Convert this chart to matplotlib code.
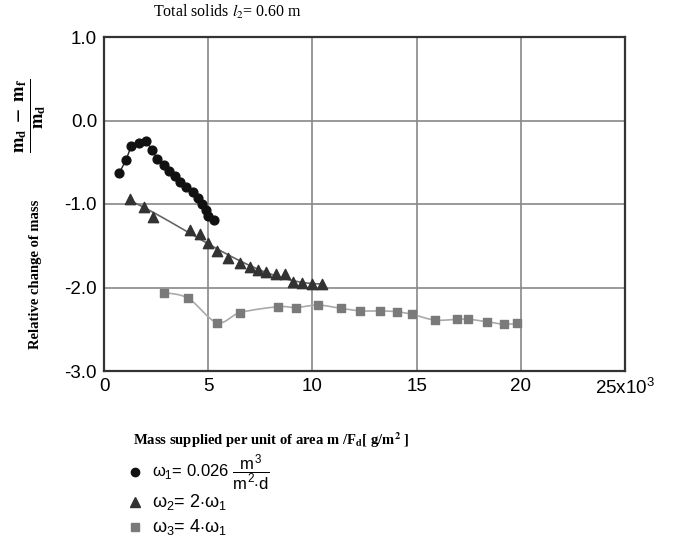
import matplotlib.pyplot as plt
import numpy as np
from matplotlib.lines import Line2D

plt.rcParams['mathtext.fontset'] = 'custom'
plt.rcParams['mathtext.rm'] = 'Liberation Sans'
plt.rcParams['mathtext.it'] = 'Liberation Sans'
plt.rcParams['mathtext.bf'] = 'Liberation Sans:bold'

# omega_1 (circles)
x1 = [0.74, 1.06, 1.30, 1.67, 2.02, 2.29, 2.56, 2.88, 3.12, 3.39, 3.65, 3.94,
      4.25, 4.49, 4.71, 4.90, 5.01, 5.29]
y1 = [-0.625, -0.47, -0.31, -0.27, -0.245, -0.35, -0.46, -0.53, -0.60, -0.66,
      -0.74, -0.80, -0.86, -0.93, -1.00, -1.07, -1.14, -1.19]

# omega_2 (triangles)
x2 = [1.25, 1.92, 2.37, 4.13, 4.62, 5.01, 5.44, 5.93, 6.51, 6.99, 7.38, 7.79,
      8.27, 8.70, 9.05, 9.52, 10.0, 10.47]
y2 = [-0.94, -1.04, -1.16, -1.31, -1.36, -1.47, -1.56, -1.65, -1.71, -1.75,
      -1.79, -1.82, -1.84, -1.84, -1.93, -1.95, -1.96, -1.96]

# omega_3 (squares)
x3 = [2.88, 4.05, 5.42, 6.54, 8.35, 9.21, 10.27, 11.37, 12.28, 13.24, 14.04,
      14.76, 15.88, 16.95, 17.48, 18.39, 19.17, 19.84]
y3 = [-2.06, -2.13, -2.42, -2.30, -2.23, -2.24, -2.21, -2.25, -2.28, -2.28,
      -2.29, -2.32, -2.39, -2.38, -2.38, -2.41, -2.44, -2.43]

xticks = [0, 5, 10, 15, 20, 25]
xticklabels = ["0", "5", "10", "15", "20", r"25x10$^3$"]
yticks = [1.0, 0.0, -1.0, -2.0, -3.0]


def smooth(x, y, n=20):
    # catmull-rom through the measured points, just for the drawn curve
    p = np.column_stack([x, y])
    p = np.vstack([p[0], p, p[-1]])
    t = np.linspace(0, 1, n, endpoint=False)[:, None]
    out = []
    for i in range(1, len(p) - 2):
        p0, p1, p2, p3 = p[i-1], p[i], p[i+1], p[i+2]
        out.append(0.5 * (2*p1 + (-p0 + p2)*t + (2*p0 - 5*p1 + 4*p2 - p3)*t**2
                          + (-p0 + 3*p1 - 3*p2 + p3)*t**3))
    out.append(p[-2][None, :])
    out = np.vstack(out)
    return out[:, 0], out[:, 1]


fig = plt.figure(figsize=(6.77, 5.45), dpi=100)
ax = fig.add_axes([104/677, 1 - 371/545, 521/677, 334/545])

# fitted trend for triangles
coef = np.polyfit(x2, y2, 3)
xf = np.linspace(min(x2), max(x2), 200)
ax.plot(xf, np.polyval(coef, xf), color='#666666', lw=1.2, zorder=2)
sx, sy = smooth(x3, y3)
ax.plot(sx, sy, color='#aaaaaa', lw=1.2, zorder=2)
ax.plot(x1, y1, color='#222222', lw=1.0, zorder=2)

ax.scatter(x1, y1, marker='o', s=40, color='#111111', zorder=3)
ax.scatter(x2, y2, marker='^', s=55, color='#333333', zorder=3)
ax.scatter(x3, y3, marker='s', s=40, color='#7a7a7a', zorder=3)

ax.set_xlim(0, 25)
ax.set_ylim(-3, 1)
ax.set_xticks(xticks, labels=xticklabels)
ax.set_yticks(yticks, labels=[f"{v:.1f}" for v in yticks])
ax.tick_params(length=0, pad=5, labelsize=13.5)
for lab in ax.get_xticklabels() + ax.get_yticklabels():
    lab.set_fontfamily('Liberation Sans')
ax.grid(True, color='#888888', lw=1.2)
ax.set_axisbelow(True)
for sp in ax.spines.values():
    sp.set_color('#333333')
    sp.set_linewidth(1.6)

fig.text(228/677, 1 - 12/545, r"Total solids $l_2$= 0.60 m", ha='center', va='center',
         family='Liberation Serif', fontsize=11.5, math_fontfamily='stix')
fig.text(31/677, 1 - 116/545, r"$\mathbf{\frac{m_d\ -\ m_f}{m_d}}$", rotation=90,
         ha='center', va='center', fontsize=19, math_fontfamily='stix')
fig.text(36/677, 1 - 274/545, "Relative change of mass", rotation=90, ha='center',
         va='center', family='Liberation Serif', weight='bold', fontsize=10.5)
fig.text(133/677, 1 - 440/545, r"Mass supplied per unit of area m /F$_\mathbf{d}$[ g/m$^\mathbf{2}$ ]",
         ha='left', va='center', family='Liberation Serif', weight='bold', fontsize=10.5,
         math_fontfamily='stix')

leg_y = [472, 502, 527]
leg_m = [('o', '#111111', 6), ('^', '#333333', 7), ('s', '#7a7a7a', 6)]
leg_t = [r"$\omega_1$= 0.026 $\dfrac{m^3}{m^2{\cdot}d}$",
         r"$\omega_2$= 2$\cdot\omega_1$",
         r"$\omega_3$= 4$\cdot\omega_1$"]
for yy, (mk, c, ms), t in zip(leg_y, leg_m, leg_t):
    fig.add_artist(Line2D([135/677], [1 - yy/545], marker=mk, color=c, ms=ms,
                          ls='none', transform=fig.transFigure))
    fig.text(152/677, 1 - yy/545, t, ha='left', va='center', family='Liberation Sans',
             fontsize=12 if yy == leg_y[0] else 13, math_fontfamily='custom')

fig.savefig("out.png", dpi=100)
